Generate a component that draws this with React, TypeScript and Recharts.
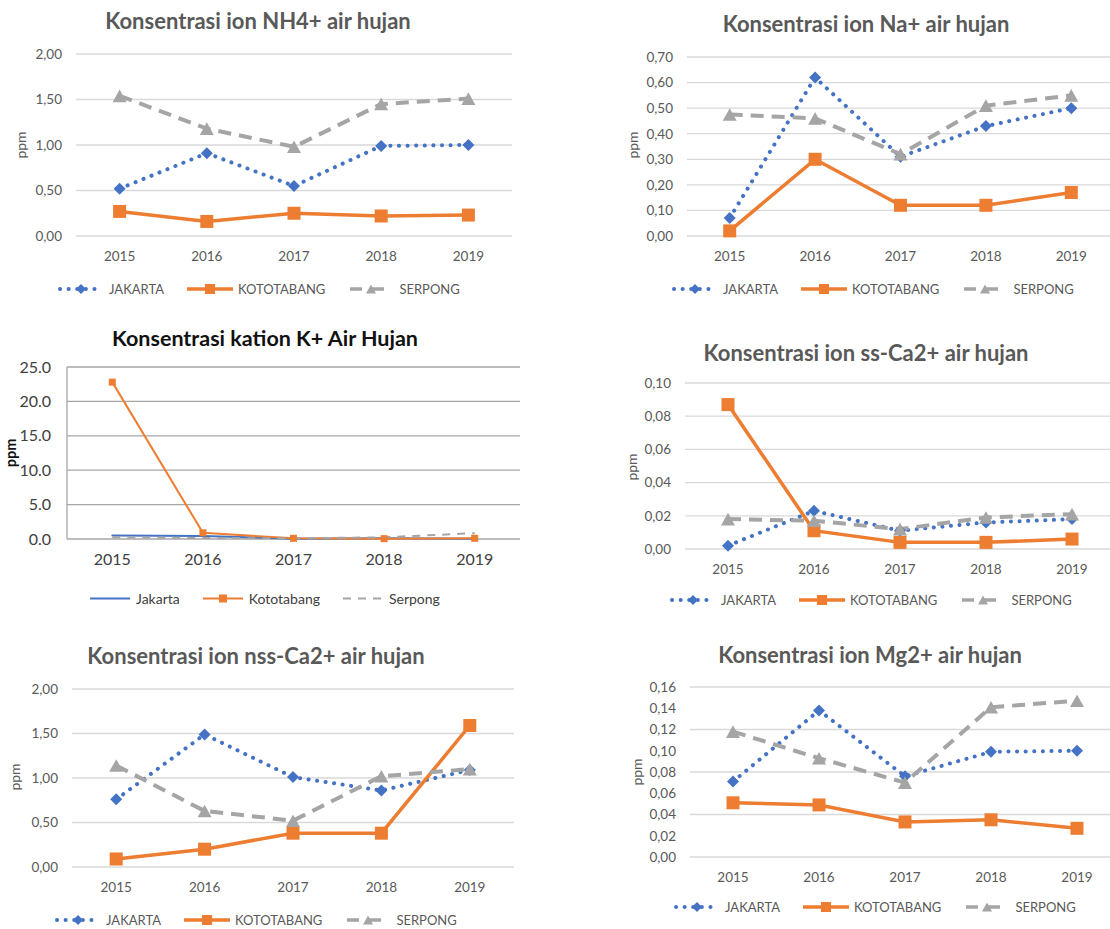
import { LineChart, Line, XAxis, YAxis, CartesianGrid } from "recharts";

const years = ["2015", "2016", "2017", "2018", "2019"];

// ppm per station, 2015..2019
const nh4Jakarta = [0.52, 0.91, 0.55, 0.99, 1.0];
const nh4Kototabang = [0.27, 0.16, 0.25, 0.22, 0.23];
const nh4Serpong = [1.54, 1.18, 0.98, 1.45, 1.51];

const naJakarta = [0.07, 0.62, 0.31, 0.43, 0.5];
const naKototabang = [0.02, 0.3, 0.12, 0.12, 0.17];
const naSerpong = [0.475, 0.46, 0.32, 0.51, 0.55];

const kJakarta = [0.5, 0.45, 0.05, 0.1, 0.05];
const kKototabang = [22.8, 0.9, 0.1, 0.05, 0.1];
const kSerpong = [0.25, 0.15, 0.1, 0.25, 0.85];

const ssCaJakarta = [0.002, 0.023, 0.011, 0.016, 0.018];
const ssCaKototabang = [0.087, 0.011, 0.004, 0.004, 0.006];
const ssCaSerpong = [0.018, 0.017, 0.012, 0.019, 0.021];

const nssCaJakarta = [0.76, 1.49, 1.01, 0.86, 1.09];
const nssCaKototabang = [0.09, 0.2, 0.38, 0.38, 1.59];
const nssCaSerpong = [1.14, 0.63, 0.52, 1.02, 1.1];

const mgJakarta = [0.071, 0.138, 0.076, 0.099, 0.1];
const mgKototabang = [0.051, 0.049, 0.033, 0.035, 0.027];
const mgSerpong = [0.118, 0.093, 0.07, 0.141, 0.147];

const nh4Ticks = [0, 0.5, 1, 1.5, 2];
const naTicks = [0, 0.1, 0.2, 0.3, 0.4, 0.5, 0.6, 0.7];
const kTicks = [0, 5, 10, 15, 20, 25];
const ssCaTicks = [0, 0.02, 0.04, 0.06, 0.08, 0.1];
const nssCaTicks = [0, 0.5, 1, 1.5, 2];
const mgTicks = [0, 0.02, 0.04, 0.06, 0.08, 0.1, 0.12, 0.14, 0.16];

const BLUE = "#4472C4";
const ORANGE = "#ED7D31";
const GRAY = "#A5A5A5";
const TEXT = "#595959";
const FONT = "Lato, 'Open Sans', sans-serif";

type Row = { year: string; jakarta: number; kototabang: number; serpong: number };

function toRows(j: number[], k: number[], s: number[]): Row[] {
  return years.map((year, i) => ({ year, jakarta: j[i], kototabang: k[i], serpong: s[i] }));
}

const comma = (v: number) => v.toFixed(2).replace(".", ",");
const point = (v: number) => v.toFixed(1);

// marker renderers
const diamond = (size: number, color: string) => (p: any) => {
  const { cx, cy, index } = p;
  const r = size / 2;
  if (cx == null || cy == null) return <g key={`d${index}`} />;
  return (
    <path key={`d${index}`} d={`M${cx},${cy - r}L${cx + r},${cy}L${cx},${cy + r}L${cx - r},${cy}Z`} fill={color} />
  );
};

const square = (size: number, color: string) => (p: any) => {
  const { cx, cy, index } = p;
  if (cx == null || cy == null) return <g key={`s${index}`} />;
  return <rect key={`s${index}`} x={cx - size / 2} y={cy - size / 2} width={size} height={size} fill={color} />;
};

const triangle = (size: number, color: string) => (p: any) => {
  const { cx, cy, index } = p;
  if (cx == null || cy == null) return <g key={`t${index}`} />;
  const h = size * 0.9;
  return (
    <path
      key={`t${index}`}
      d={`M${cx},${cy - h / 2}L${cx + size / 2},${cy + h / 2}L${cx - size / 2},${cy + h / 2}Z`}
      fill={color}
    />
  );
};

type Box = { left: number; top: number; right: number; bottom: number };

type PanelProps = {
  title: string;
  rows: Row[];
  ticks: number[];
  format: (v: number) => string;
  box: Box;
  titleAt: [number, number];
  legendAt: [number, number];
  unitAt: [number, number];
  classic?: boolean;
};

const YW = 70;
const MT = 12;
const XH = 34;

function Swatch({ kind, classic }: { kind: "j" | "k" | "s"; classic?: boolean }) {
  const w = classic ? 42 : 46;
  const c = w / 2;
  if (classic) {
    if (kind === "j") return <svg width={w} height={14}><line x1={1} x2={w - 1} y1={7} y2={7} stroke={BLUE} strokeWidth={2} /></svg>;
    if (kind === "k")
      return (
        <svg width={w} height={14}>
          <line x1={1} x2={w - 1} y1={7} y2={7} stroke={ORANGE} strokeWidth={2} />
          <rect x={c - 4} y={3} width={8} height={8} fill={ORANGE} />
        </svg>
      );
    return <svg width={w} height={14}><line x1={1} x2={w - 1} y1={7} y2={7} stroke={GRAY} strokeWidth={2} strokeDasharray="8 7" /></svg>;
  }
  if (kind === "j")
    return (
      <svg width={w} height={14}>
        <line x1={2} x2={w - 2} y1={7} y2={7} stroke={BLUE} strokeWidth={4} strokeDasharray="0.1 8.5" strokeLinecap="round" />
        <path d={`M${c},2L${c + 5},7L${c},12L${c - 5},7Z`} fill={BLUE} />
      </svg>
    );
  if (kind === "k")
    return (
      <svg width={w} height={14}>
        <line x1={0} x2={w} y1={7} y2={7} stroke={ORANGE} strokeWidth={3.5} />
        <rect x={c - 5} y={2} width={10} height={10} fill={ORANGE} />
      </svg>
    );
  return (
    <svg width={w} height={14}>
      <line x1={0} x2={w} y1={7} y2={7} stroke={GRAY} strokeWidth={3.5} strokeDasharray="12 10" strokeDashoffset={-2} />
      <path d={`M${c},2.5L${c + 5},11.5L${c - 5},11.5Z`} fill={GRAY} />
    </svg>
  );
}

function Legend({ at, classic }: { at: [number, number]; classic?: boolean }) {
  const names = classic ? ["Jakarta", "Kototabang", "Serpong"] : ["JAKARTA", "KOTOTABANG", "SERPONG"];
  const kinds: ("j" | "k" | "s")[] = ["j", "k", "s"];
  return (
    <div
      style={{
        position: "absolute",
        left: at[0],
        top: at[1],
        transform: "translateY(-50%)",
        display: "flex",
        alignItems: "center",
        gap: classic ? 22 : 23,
        fontFamily: FONT,
        fontSize: classic ? 14 : 13,
        color: classic ? "#404040" : TEXT,
        whiteSpace: "nowrap",
      }}
    >
      {kinds.map((k, i) => (
        <div key={k} style={{ display: "flex", alignItems: "center", gap: 5 }}>
          <Swatch kind={k} classic={classic} />
          <span>{names[i]}</span>
        </div>
      ))}
    </div>
  );
}

function Panel({ title, rows, ticks, format, box, titleAt, legendAt, unitAt, classic }: PanelProps) {
  const pw = box.right - box.left;
  const ph = box.bottom - box.top;
  const width = YW + pw;
  const height = MT + ph + XH;
  const grid = classic ? "#A6A6A6" : "#D9D9D9";
  const tickStyle = classic
    ? { fill: "#404040", fontSize: 16, fontFamily: FONT }
    : { fill: TEXT, fontSize: 13.5, fontFamily: FONT };
  const lw = classic ? 2 : 3.5;

  return (
    <>
      <div
        style={{
          position: "absolute",
          left: titleAt[0],
          top: titleAt[1],
          transform: "translate(-50%, -50%)",
          fontFamily: FONT,
          fontWeight: 700,
          fontSize: classic ? 21.5 : 22,
          color: classic ? "#111" : TEXT,
          whiteSpace: "nowrap",
        }}
      >
        {title}
      </div>
      <div
        style={{
          position: "absolute",
          left: unitAt[0],
          top: unitAt[1],
          transform: "translate(-50%, -50%) rotate(-90deg)",
          fontFamily: FONT,
          fontSize: classic ? 14.5 : 14,
          fontWeight: classic ? 700 : 400,
          color: classic ? "#111" : TEXT,
        }}
      >
        ppm
      </div>
      <div style={{ position: "absolute", left: box.left - YW, top: box.top - MT }}>
        <LineChart width={width} height={height} data={rows} margin={{ top: MT, right: 0, bottom: 0, left: 0 }}>
          <CartesianGrid vertical={false} stroke={grid} strokeWidth={1.3} />
          <XAxis
            dataKey="year"
            axisLine={false}
            tickLine={false}
            tickMargin={9}
            height={XH}
            interval={0}
            padding={{ left: pw / 10, right: pw / 10 }}
            tick={tickStyle}
          />
          <YAxis
            width={YW}
            domain={[0, ticks[ticks.length - 1]]}
            ticks={ticks}
            tickFormatter={format}
            axisLine={classic ? { stroke: grid, strokeWidth: 1.3 } : false}
            tickLine={false}
            tickMargin={classic ? 10 : 8}
            tick={tickStyle}
          />
          <Line
            dataKey="jakarta"
            stroke={BLUE}
            strokeWidth={classic ? 2 : 4}
            strokeDasharray={classic ? undefined : "0.1 8.5"}
            strokeLinecap="round"
            dot={classic ? false : diamond(12, BLUE)}
            activeDot={false}
            isAnimationActive={false}
          />
          <Line
            dataKey="kototabang"
            stroke={ORANGE}
            strokeWidth={lw}
            dot={square(classic ? 7 : 13, ORANGE)}
            activeDot={false}
            isAnimationActive={false}
          />
          <Line
            dataKey="serpong"
            stroke={GRAY}
            strokeWidth={classic ? 2 : 4}
            strokeDasharray={classic ? "8 7" : "13 8"}
            dot={classic ? false : triangle(14, GRAY)}
            activeDot={false}
            isAnimationActive={false}
          />
        </LineChart>
      </div>
      <Legend at={legendAt} classic={classic} />
    </>
  );
}

export default function App() {
  return (
    <div
      style={{
        position: "absolute",
        left: 0,
        top: 0,
        width: 1110,
        height: 929,
        background: "#fff",
        overflow: "hidden",
      }}
    >
      <Panel
        title="Konsentrasi ion NH4+ air hujan"
        rows={toRows(nh4Jakarta, nh4Kototabang, nh4Serpong)}
        ticks={nh4Ticks}
        format={comma}
        box={{ left: 76, top: 54, right: 512, bottom: 236 }}
        titleAt={[258, 20]}
        legendAt={[58, 289]}
        unitAt={[20, 145]}
      />
      <Panel
        title="Konsentrasi ion Na+ air hujan"
        rows={toRows(naJakarta, naKototabang, naSerpong)}
        ticks={naTicks}
        format={comma}
        box={{ left: 687, top: 57, right: 1114, bottom: 236 }}
        titleAt={[866, 23]}
        legendAt={[672, 289]}
        unitAt={[632, 145]}
      />
      <Panel
        title="Konsentrasi kation K+ Air Hujan"
        rows={toRows(kJakarta, kKototabang, kSerpong)}
        ticks={kTicks}
        format={point}
        box={{ left: 67, top: 367, right: 520, bottom: 539 }}
        titleAt={[265, 338]}
        legendAt={[89, 598]}
        unitAt={[10, 453]}
        classic
      />
      <Panel
        title="Konsentrasi ion ss-Ca2+ air hujan"
        rows={toRows(ssCaJakarta, ssCaKototabang, ssCaSerpong)}
        ticks={ssCaTicks}
        format={comma}
        box={{ left: 685, top: 383, right: 1115, bottom: 549 }}
        titleAt={[866, 352]}
        legendAt={[670, 600]}
        unitAt={[631, 467]}
      />
      <Panel
        title="Konsentrasi ion nss-Ca2+ air hujan"
        rows={toRows(nssCaJakarta, nssCaKototabang, nssCaSerpong)}
        ticks={nssCaTicks}
        format={comma}
        box={{ left: 72, top: 689, right: 514, bottom: 867 }}
        titleAt={[256, 655]}
        legendAt={[55, 920]}
        unitAt={[14, 777]}
      />
      <Panel
        title="Konsentrasi ion Mg2+ air hujan"
        rows={toRows(mgJakarta, mgKototabang, mgSerpong)}
        ticks={mgTicks}
        format={comma}
        box={{ left: 690, top: 687, right: 1120, bottom: 857 }}
        titleAt={[870, 654]}
        legendAt={[674, 907]}
        unitAt={[636, 772]}
      />
    </div>
  );
}
